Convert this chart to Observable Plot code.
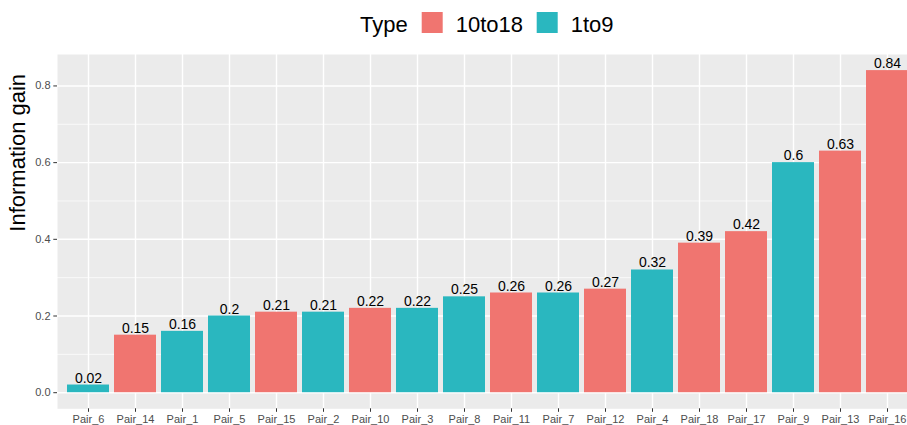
<!DOCTYPE html>
<html>
<head>
<meta charset="utf-8">
<script src="https://cdn.jsdelivr.net/npm/d3@7"></script>
<script src="https://cdn.jsdelivr.net/npm/@observablehq/plot@0.6"></script>
<style>
  html, body { margin: 0; padding: 0; background: white; overflow: hidden; width: 907px; height: 425px; }
  #legend { display: block; }
  #chart { width: 920px; }
  #chart svg { display: block; max-width: none !important; width: 920px !important; height: 381px !important; }
</style>
</head>
<body>
<svg id="legend" width="907" height="44"></svg>
<div id="chart"></div>
<script>
const pairs = ["Pair_6","Pair_14","Pair_1","Pair_5","Pair_15","Pair_2","Pair_10","Pair_3","Pair_8","Pair_11","Pair_7","Pair_12","Pair_4","Pair_18","Pair_17","Pair_9","Pair_13","Pair_16"];
const gains = [0.02,0.15,0.16,0.2,0.21,0.21,0.22,0.22,0.25,0.26,0.26,0.27,0.32,0.39,0.42,0.6,0.63,0.84];
const types = ["1to9","10to18","1to9","1to9","10to18","1to9","10to18","1to9","1to9","10to18","1to9","10to18","1to9","10to18","10to18","1to9","10to18","10to18"];
const typeDomain = ["10to18","1to9"];
const typeColors = ["#F07570","#2AB7BF"];
const yTicks = [0, 0.2, 0.4, 0.6, 0.8];
const yMinor = [0.1, 0.3, 0.5, 0.7];
const legendTitle = "Type";
const yTitle = "Information gain";

const font = "'Liberation Sans', Arial, Helvetica, sans-serif";
const data = pairs.map((p, i) => ({pair: p, gain: gains[i], type: types[i]}));

// Legend
const lg = d3.select("#legend").style("font-family", font);
lg.append("text").attr("x", 360).attr("y", 31.5).attr("font-size", 22).attr("fill", "black").text(legendTitle);
const keyX = [421.7, 536.7];
typeDomain.forEach((t, i) => {
  lg.append("rect").attr("x", keyX[i]).attr("y", 12).attr("width", 21).attr("height", 21).attr("fill", typeColors[i]);
  lg.append("text").attr("x", keyX[i] + 34).attr("y", 31.5).attr("font-size", 22).attr("fill", "black").text(t);
});

const chart = Plot.plot({
  width: 920,
  height: 381,
  marginLeft: 57,
  marginRight: 2,
  marginTop: 10,
  marginBottom: 16.7,
  style: {fontFamily: font, background: "white", overflow: "visible"},
  x: {type: "band", domain: pairs, paddingInner: 0.1, paddingOuter: 0.15, label: null},
  y: {domain: [-0.042, 0.882], label: null},
  color: {domain: typeDomain, range: typeColors},
  marks: [
    Plot.frame({fill: "#EBEBEB"}),
    Plot.ruleY(yMinor, {stroke: "white", strokeWidth: 0.7}),
    Plot.ruleY(yTicks, {stroke: "white", strokeWidth: 1.4}),
    Plot.gridX({stroke: "white", strokeOpacity: 1, strokeWidth: 1.4}),
    Plot.barY(data, {x: "pair", y: "gain", fill: "type"}),
    Plot.text(data, {x: "pair", y: "gain", text: d => String(d.gain), lineAnchor: "bottom", dy: -2.5, fontSize: 14, fill: "black"}),
    Plot.axisY({ticks: yTicks, tickFormat: d3.format(".1f"), tickSize: 3.7, tickPadding: 3.3, fontSize: 11, fill: "#4D4D4D", stroke: "#333", label: null}),
    Plot.axisX({tickSize: 3.5, tickPadding: 3, fontSize: 11, fill: "#4D4D4D", stroke: "#333", label: null}),
    Plot.text([yTitle], {text: d => d, frameAnchor: "left", dx: -32.5, rotate: -90, lineAnchor: "bottom", fontSize: 22, fill: "black"})
  ]
});
document.getElementById("chart").appendChild(chart);
</script>
</body>
</html>
